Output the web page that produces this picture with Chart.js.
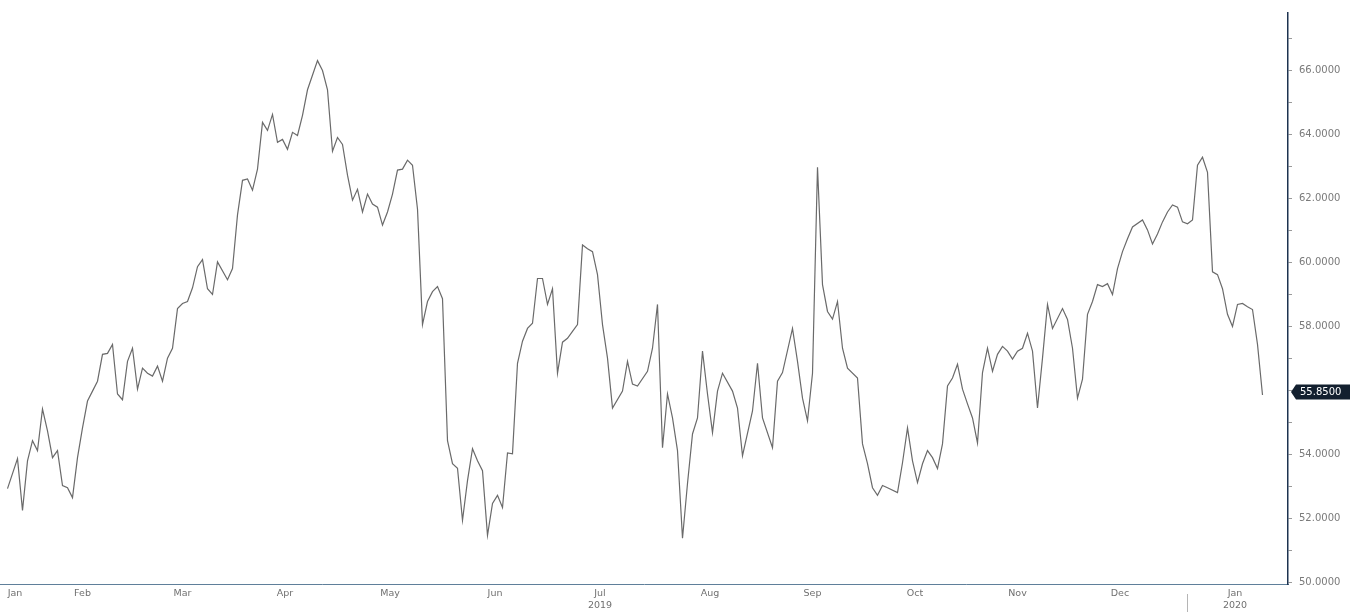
<!DOCTYPE html>
<html>
<head>
<meta charset="utf-8">
<script src="https://cdn.jsdelivr.net/npm/chart.js@4.4.1/dist/chart.umd.min.js"></script>
<style>
  html, body { margin: 0; padding: 0; background: #fff; }
  #wrap { width: 1363px; height: 614px; }
</style>
</head>
<body>
<div id="wrap"><canvas id="chart"></canvas></div>
<script>
// trading-day index (0 = 2 Jan 2019) and closing price
const days = [
  16, 18, 19, 20, 21, 22, 23, 24, 25, 26, 27, 28, 29, 30, 31, 32, 33, 34, 35, 36,
  37, 38, 39, 40, 41, 42, 43, 44, 45, 46, 47, 48, 49, 50, 51, 52, 53, 54, 55, 56,
  57, 58, 60, 61, 62, 63, 64, 65, 66, 67, 68, 69, 70, 71, 72, 73, 74, 75, 76, 78,
  79, 80, 81, 82, 83, 84, 85, 86, 87, 88, 89, 90, 91, 92, 93, 94, 95, 96, 97, 98,
  99, 100, 101, 102, 103, 104, 105, 106, 107, 108, 109, 110, 111, 112, 113, 114, 115, 116, 117, 118,
  119, 120, 121, 122, 123, 124, 125, 126, 127, 128, 129, 130, 131, 132, 133, 134, 135, 136, 137, 139,
  140, 141, 142, 144, 145, 146, 147, 148, 149, 150, 151, 152, 153, 154, 155, 156, 157, 158, 159, 161,
  162, 163, 165, 166, 167, 169, 170, 171, 173, 174, 175, 176, 177, 178, 179, 180, 181, 182, 183, 184,
  186, 187, 188, 189, 190, 191, 192, 194, 195, 196, 197, 198, 199, 200, 201, 202, 203, 204, 205, 206,
  207, 208, 209, 210, 211, 212, 213, 214, 215, 216, 217, 218, 219, 220, 221, 222, 223, 224, 225, 227,
  228, 229, 230, 231, 232, 233, 234, 235, 236, 237, 238, 239, 240, 241, 243, 244, 245, 246, 247, 248,
  249, 250, 251, 252, 253, 254, 255, 256, 257, 258, 259, 260, 261, 262, 263, 264, 265, 266, 267
];
const prices = [
  52.92, 53.86, 52.24, 53.79, 54.42, 54.11, 55.41, 54.73, 53.89, 54.11, 53.02, 52.95, 52.64, 53.89, 54.82, 55.66, 55.97, 56.28, 57.12, 57.15,
  57.43, 55.88, 55.70, 56.90, 57.31, 56.03, 56.69, 56.53, 56.44, 56.75, 56.28, 57.00, 57.31, 58.55, 58.71, 58.77, 59.20, 59.86, 60.08, 59.17,
  58.99, 60.01, 59.45, 59.80, 61.48, 62.56, 62.60, 62.25, 62.91, 64.37, 64.12, 64.62, 63.75, 63.84, 63.53, 64.06, 63.96, 64.59, 65.39, 66.30,
  65.99, 65.39, 63.47, 63.90, 63.68, 62.72, 61.94, 62.28, 61.57, 62.13, 61.82, 61.72, 61.16, 61.57, 62.13, 62.88, 62.91, 63.19, 63.03, 61.66,
  58.05, 58.77, 59.08, 59.24, 58.86, 54.42, 53.70, 53.56, 51.93, 53.17, 54.17, 53.79, 53.48, 51.46, 52.46, 52.71, 52.33, 54.04, 54.01, 56.84,
  57.53, 57.93, 58.09, 59.49, 59.49, 58.68, 59.17, 56.53, 57.50, 57.62, 57.84, 58.05, 60.54, 60.42, 60.33, 59.61, 58.05, 57.00, 55.44, 55.97,
  56.90, 56.19, 56.13, 56.59, 57.31, 58.68, 54.20, 55.88, 55.13, 54.11, 51.37, 53.08, 54.63, 55.13, 57.22, 55.88, 54.67, 55.97, 56.53, 55.97,
  55.44, 53.95, 55.35, 56.84, 55.13, 54.20, 56.28, 56.55, 57.93, 56.90, 55.75, 55.04, 56.53, 62.97, 59.30, 58.46, 58.22, 58.77, 57.31, 56.69,
  56.38, 54.32, 53.70, 52.95, 52.71, 53.02, 52.95, 52.80, 53.73, 54.82, 53.79, 53.11, 53.70, 54.11, 53.89, 53.55, 54.32, 56.13, 56.38, 56.81,
  56.03, 55.57, 55.13, 54.35, 56.55, 57.31, 56.59, 57.12, 57.37, 57.22, 56.97, 57.22, 57.31, 57.78, 57.22, 55.44, 57.00, 58.68, 57.93, 58.55,
  58.21, 57.31, 55.75, 56.34, 58.37, 58.77, 59.30, 59.24, 59.33, 58.99, 59.80, 60.33, 60.73, 61.10, 61.32, 61.01, 60.57, 60.88, 61.26, 61.57,
  61.79, 61.72, 61.26, 61.20, 61.32, 63.03, 63.28, 62.81, 59.70, 59.61, 59.17, 58.37, 57.99, 58.68, 58.71, 58.61, 58.52, 57.43, 55.85
];

// month labels sit in the middle of each month
const monthLabels = ['Jan', 'Feb', 'Mar', 'Apr', 'May', 'Jun', ['Jul', '2019'], 'Aug', 'Sep', 'Oct', 'Nov', 'Dec', ['Jan', '2020']];
const monthPos = [17.5, 31, 51, 71.5, 92.5, 113.5, 134.5, 156.5, 177, 197.5, 218, 238.5, 261.5];
const yearBreak = 252;
const lastLabel = '55.8500';

const markers = {
    id: 'markers',
    afterDraw(chart) {
        const { ctx, scales: { x, y } } = chart;
        ctx.save();

        // year separator under the axis
        const bx = x.getPixelForValue(yearBreak);
        ctx.strokeStyle = '#b5b5b5';
        ctx.lineWidth = 1;
        ctx.beginPath();
        ctx.moveTo(bx, y.bottom + 10);
        ctx.lineTo(bx, y.bottom + 28);
        ctx.stroke();

        // last price tag
        const py = Math.round(y.getPixelForValue(prices[prices.length - 1])) - 3;
        const left = x.right + 3, w = 59, h = 15;
        ctx.fillStyle = '#13202f';
        ctx.beginPath();
        ctx.moveTo(left, py);
        ctx.lineTo(left + 5, py - h / 2);
        ctx.lineTo(left + w, py - h / 2);
        ctx.lineTo(left + w, py + h / 2);
        ctx.lineTo(left + 5, py + h / 2);
        ctx.closePath();
        ctx.fill();
        ctx.fillStyle = '#ffffff';
        ctx.font = '10px "DejaVu Sans"';
        ctx.textBaseline = 'middle';
        ctx.fillText(lastLabel, left + 9, py + 0.5);
        ctx.restore();
    }
};

const ctx = document.getElementById('chart').getContext('2d');
new Chart(ctx, {
    type: 'line',
    data: {
        datasets: [{
            data: days.map((d, i) => ({ x: d, y: prices[i] })),
            borderColor: '#6a6a6a',
            borderWidth: 1.2,
            pointRadius: 0,
            tension: 0,
            fill: false
        }]
    },
    options: {
        responsive: true,
        maintainAspectRatio: false,
        animation: false,
        layout: { padding: { top: 10, left: 0, right: 0, bottom: 0 } },
        plugins: {
            legend: { display: false },
            tooltip: { enabled: false }
        },
        scales: {
            x: {
                type: 'linear',
                min: 14.5,
                max: 272.1,
                afterBuildTicks: axis => { axis.ticks = monthPos.map(v => ({ value: v })); },
                afterFit: axis => { axis.height = 30; },
                grid: { display: false, drawTicks: false },
                border: { display: true, color: '#5f7f9a', width: 1 },
                ticks: {
                    autoSkip: false,
                    maxRotation: 0,
                    padding: 4,
                    color: '#707070',
                    font: { family: 'DejaVu Sans', size: 9.5, lineHeight: 1.25 },
                    callback: (v, i) => monthLabels[i]
                }
            },
            y: {
                position: 'right',
                min: 49.94,
                max: 67.79,
                afterFit: axis => { axis.width = 75; },
                grid: { drawOnChartArea: false, drawTicks: true, tickLength: 4, color: '#9a9a9a' },
                border: { display: true, color: '#1d3350', width: 1.5 },
                ticks: {
                    stepSize: 1,
                    includeBounds: false,
                    padding: 7,
                    color: '#7a7a7a',
                    font: { family: 'DejaVu Sans', size: 10 },
                    callback: v => (v % 2 === 0 && v !== 56) ? v.toFixed(4) : ''
                }
            }
        }
    },
    plugins: [markers]
});
</script>
</body>
</html>
